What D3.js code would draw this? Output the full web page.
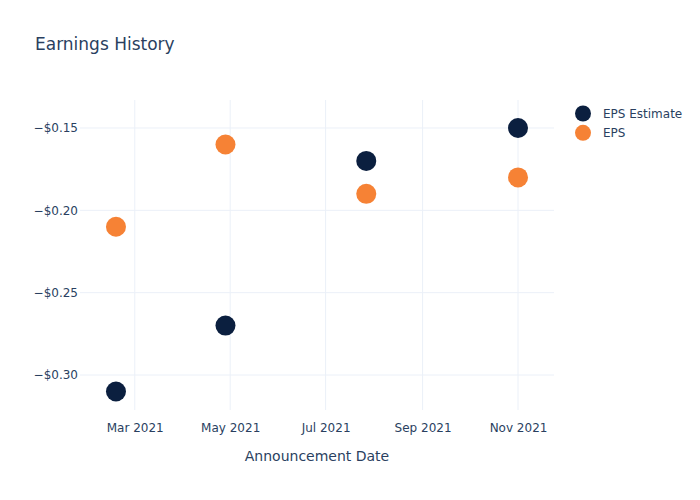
<!DOCTYPE html>
<html>
<head>
<meta charset="utf-8">
<script src="https://cdn.jsdelivr.net/npm/d3@7"></script>
<style>
body { margin: 0; background: #fff; }
svg { font-family: "DejaVu Sans", sans-serif; }
</style>
</head>
<body>
<svg id="chart" width="700" height="500"></svg>
<script>
const dates = ["2021-02-17", "2021-04-28", "2021-07-27", "2021-11-01"];
const epsEstimate = [-0.31, -0.27, -0.17, -0.15];
const eps = [-0.21, -0.16, -0.19, -0.18];
const yTicks = [-0.30, -0.25, -0.20, -0.15];
const xTicks = ["2021-03-01", "2021-05-01", "2021-07-01", "2021-09-01", "2021-11-01"];
const seriesNames = ["EPS Estimate", "EPS"];
const colors = ["#0b1f3f", "#f68235"];

const parse = d3.utcParse("%Y-%m-%d");
const svg = d3.select("#chart");
const L = 80, R = 554, T = 100, B = 410;
const FONT = '"DejaVu Sans", sans-serif';

const x = d3.scaleUtc()
  .domain([parse("2021-01-25"), parse("2021-11-24")])
  .range([L, R]);
const y = d3.scaleLinear()
  .domain([-0.32125, -0.1330])
  .range([B, T]);

const fontColor = "#2a3f5f";
const gridColor = "#ebf0f8";

// gridlines
svg.append("g").selectAll("line").data(xTicks).join("line")
  .attr("x1", d => x(parse(d))).attr("x2", d => x(parse(d)))
  .attr("y1", T).attr("y2", B)
  .attr("stroke", gridColor).attr("stroke-width", 1);
svg.append("g").selectAll("line").data(yTicks).join("line")
  .attr("x1", L).attr("x2", R)
  .attr("y1", d => y(d)).attr("y2", d => y(d))
  .attr("stroke", gridColor).attr("stroke-width", 1);

// axes
const fmtY = d => "\u2212$" + Math.abs(d).toFixed(2);
const xAxis = d3.axisBottom(x)
  .tickValues(xTicks.map(parse))
  .tickFormat(d3.utcFormat("%b %Y"))
  .tickSize(0).tickPadding(13);
const gx = svg.append("g").attr("transform", `translate(0,${B})`).call(xAxis);
gx.select(".domain").remove();
gx.selectAll("text").attr("fill", fontColor).attr("font-size", 12)
  .attr("font-family", FONT);

const yAxis = d3.axisLeft(y).tickValues(yTicks).tickFormat(fmtY)
  .tickSize(0).tickPadding(2);
const gy = svg.append("g").attr("transform", `translate(${L},0)`).call(yAxis);
gy.select(".domain").remove();
gy.selectAll("text").attr("fill", fontColor).attr("font-size", 12)
  .attr("font-family", FONT);

// points
const series = [epsEstimate, eps];
series.forEach((vals, i) => {
  svg.append("g").selectAll("circle").data(vals).join("circle")
    .attr("cx", (d, j) => x(parse(dates[j])))
    .attr("cy", d => y(d))
    .attr("r", 10)
    .attr("fill", colors[i]);
});

// title
svg.append("text").attr("x", 35).attr("y", 50)
  .attr("fill", fontColor).attr("font-size", 17)
  .text("Earnings History");

// axis title
svg.append("text").attr("x", (L + R) / 2).attr("y", 461)
  .attr("text-anchor", "middle").attr("fill", fontColor).attr("font-size", 14)
  .text("Announcement Date");

// legend
const lg = svg.append("g");
seriesNames.forEach((name, i) => {
  const yy = 113.5 + i * 19.3;
  lg.append("circle").attr("cx", 583).attr("cy", yy).attr("r", 8).attr("fill", colors[i]);
  lg.append("text").attr("x", 603).attr("y", yy + 4.5)
    .attr("fill", fontColor).attr("font-size", 12).text(name);
});
</script>
</body>
</html>
